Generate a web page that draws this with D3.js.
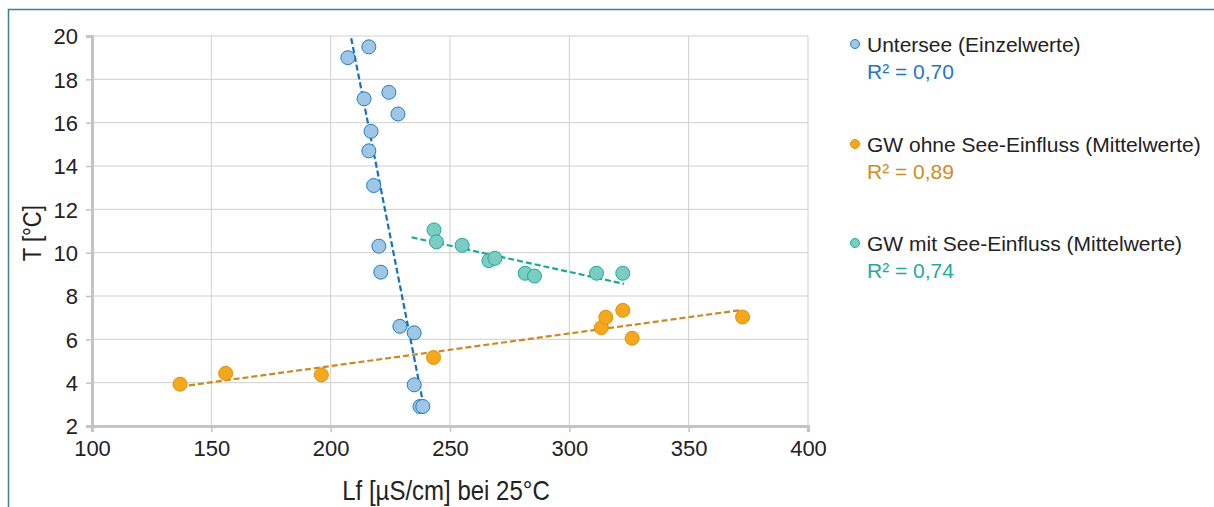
<!DOCTYPE html>
<html><head><meta charset="utf-8">
<script src="https://cdn.jsdelivr.net/npm/d3@7"></script>
<style>body{margin:0;background:#fff;}svg{display:block;font-family:"Liberation Sans",Arial,sans-serif;}</style>
</head><body><svg id="c" width="1214" height="507"></svg>
<script>
const xTicks = [100,150,200,250,300,350,400];
const yTicks = [2,4,6,8,10,12,14,16,18,20];

const unterseeLf = [207.2,216.0,224.4,228.2,214.0,216.9,216.0,218.0,220.2,221.0,229.0,235.0,235.0,237.4,238.6];
const unterseeT  = [19.0,19.5,17.4,16.4,17.1,15.6,14.7,13.1,10.3,9.1,6.6,6.3,3.9,2.9,2.9];
const ohneLf = [136.9,156.0,196.1,243.1,313.4,315.3,322.4,326.3,372.6];
const ohneT  = [3.93,4.43,4.36,5.16,6.54,7.02,7.34,6.05,7.03];
const mitLf = [243.3,244.3,255.1,266.3,268.8,281.5,285.4,311.4,322.4];
const mitT  = [11.05,10.5,10.34,9.63,9.74,9.05,8.92,9.05,9.05];

const unterseeTrend = [[208.6,19.9],[238.3,3.3]];
const ohneTrend = [[136.9,3.82],[371.2,7.34]];
const mitTrend = [[233.9,10.71],[322.9,8.56]];

const seriesNames = ["Untersee (Einzelwerte)","GW ohne See-Einfluss (Mittelwerte)","GW mit See-Einfluss (Mittelwerte)"];
const r2Labels = ["R² = 0,70","R² = 0,89","R² = 0,74"];

const series = [
  {lf:unterseeLf,t:unterseeT,trend:unterseeTrend,fill:"#9fc6e5",stroke:"#1f7cc4",line:"#1570c0",text:"#1f78c1"},
  {lf:ohneLf,t:ohneT,trend:ohneTrend,fill:"#f6a81d",stroke:"#d99212",line:"#c98a1f",text:"#c98e2a"},
  {lf:mitLf,t:mitT,trend:mitTrend,fill:"#7ccdc1",stroke:"#1aaa9b",line:"#17a99a",text:"#1fab9c"}
];

const svg = d3.select("#c");
const x = d3.scaleLinear().domain([100,400]).range([92,808]);
const y = d3.scaleLinear().domain([2,20]).range([426,36]);

// frame
svg.append("rect").attr("x",8.5).attr("y",9.5).attr("width",1230).attr("height",520)
  .attr("fill","none").attr("stroke","#3f7f90").attr("stroke-width",1.5);

// grid
svg.append("g").selectAll("line").data(xTicks.slice(1)).join("line")
  .attr("x1",d=>x(d)).attr("x2",d=>x(d)).attr("y1",y(20)).attr("y2",y(2))
  .attr("stroke","#cfcfcf").attr("stroke-width",1);
svg.append("g").selectAll("line").data(yTicks.slice(1)).join("line")
  .attr("x1",x(100)).attr("x2",x(400)).attr("y1",d=>y(d)).attr("y2",d=>y(d))
  .attr("stroke","#cfcfcf").attr("stroke-width",1);

// axes
const xa = svg.append("g").attr("transform",`translate(0,${y(2)})`)
  .call(d3.axisBottom(x).tickValues(xTicks).tickSize(6).tickPadding(4));
const ya = svg.append("g").attr("transform",`translate(${x(100)},0)`)
  .call(d3.axisLeft(y).tickValues(yTicks).tickSize(6).tickPadding(8));
[xa,ya].forEach(a=>{
  a.select(".domain").attr("stroke","#c4c4c4").attr("stroke-width",3);
  a.selectAll(".tick line").attr("stroke","#c4c4c4").attr("stroke-width",1.5);
  a.selectAll(".tick text").attr("fill","#222").style("font-size","22px").style("font-family","'Liberation Sans',Arial,sans-serif");
});
xa.selectAll(".tick text").attr("dy","0.9em");
ya.selectAll(".tick text").attr("dy","0.36em");

// axis titles
svg.append("text").attr("transform","translate(446,500) scale(1,1.15)").attr("text-anchor","middle")
  .attr("fill","#222").style("font-size","24px").text("Lf [µS/cm] bei 25°C");
svg.append("text").attr("transform",`translate(41,${y(10.9)}) rotate(-90) scale(1,1.2)`).attr("text-anchor","middle")
  .attr("fill","#222").style("font-size","22px").text("T [°C]");

// trend lines
const line = d3.line().x(d=>x(d[0])).y(d=>y(d[1]));
series.forEach(s=>{
  svg.append("path").attr("d",line(s.trend)).attr("fill","none")
    .attr("stroke",s.line).attr("stroke-width",2.2).attr("stroke-dasharray","6,3");
});

// points
series.forEach(s=>{
  svg.append("g").selectAll("circle").data(s.lf.map((v,i)=>[v,s.t[i]])).join("circle")
    .attr("cx",d=>x(d[0])).attr("cy",d=>y(d[1])).attr("r",7)
    .attr("fill",s.fill).attr("stroke",s.stroke).attr("stroke-width",1);
});

// legend
const ly = [44,144,243];
series.forEach((s,i)=>{
  svg.append("circle").attr("cx",855).attr("cy",ly[i]).attr("r",4.5)
    .attr("fill",s.fill).attr("stroke",s.stroke).attr("stroke-width",1);
  svg.append("text").attr("x",867).attr("y",ly[i]+8).attr("fill","#222")
    .style("font-size","21px").text(seriesNames[i]);
  svg.append("text").attr("x",867).attr("y",ly[i]+35).attr("fill",s.text)
    .style("font-size","21px").text(r2Labels[i]);
});
</script></body></html>
